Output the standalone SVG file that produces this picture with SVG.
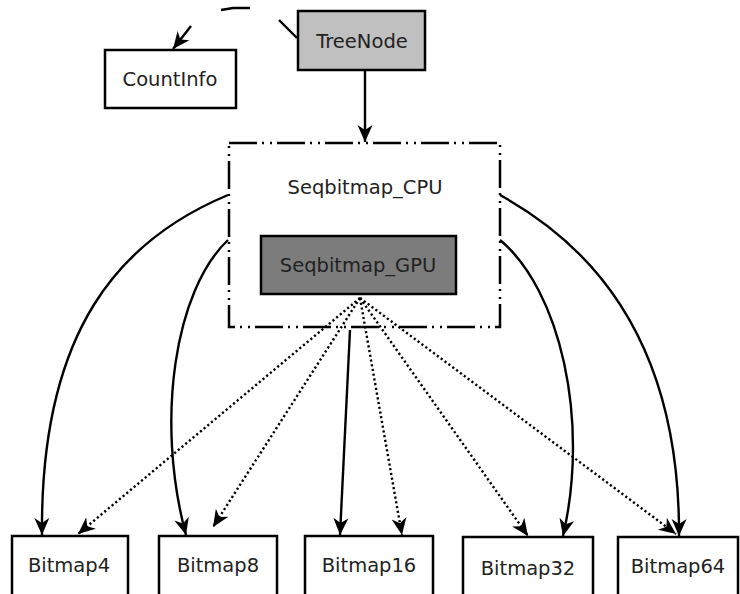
<svg xmlns="http://www.w3.org/2000/svg" width="740" height="594" viewBox="0 0 740 594">
<style>
.box{stroke:#000;stroke-width:2.5}
.lbl{font-family:"DejaVu Sans",sans-serif;font-size:19.5px;fill:#222;text-anchor:middle;dominant-baseline:central}
.e{fill:none;stroke:#000;stroke-width:2.4}
.d{fill:none;stroke:#000;stroke-width:2.4;stroke-dasharray:2.2 2.6}
</style>
<defs>
<marker id="ah" markerUnits="userSpaceOnUse" markerWidth="18" markerHeight="18" viewBox="0 0 18 18" refX="17" refY="9" orient="auto">
<path d="M0,1.5 L17,9 L0,16.5 L5,9 Z" fill="#000"/>
</marker>
</defs>
<rect width="740" height="594" fill="#fff"/>
<g id="connectors">
<path class="e" d="M221,10 L233,8 L250,8"/>
<path class="e" d="M279,20 L297,38"/>
<path class="e" d="M191,26 L173,49" marker-end="url(#ah)"/>
<path class="e" d="M365,70 L365,142" marker-end="url(#ah)"/>
<path class="e" d="M228,195 C120,240 40,330 42,535" marker-end="url(#ah)"/>
<path class="e" d="M228,240 C175,290 155,420 186,535" marker-end="url(#ah)"/>
<path class="e" d="M350,330 L340,535" marker-end="url(#ah)"/>
<path class="e" d="M500,240 C560,290 590,420 563,536" marker-end="url(#ah)"/>
<path class="e" d="M500,195 C600,250 680,350 679,536" marker-end="url(#ah)"/>
<path class="d" d="M360,298 L78,534" marker-end="url(#ah)"/>
<path class="d" d="M360,298 L213,527" marker-end="url(#ah)"/>
<path class="d" d="M360,298 L402,535" marker-end="url(#ah)"/>
<path class="d" d="M360,298 L528,536" marker-end="url(#ah)"/>
<path class="d" d="M360,298 L676,534" marker-end="url(#ah)"/>
</g>
<g id="TreeNode"><rect class="box" x="298" y="11" width="127" height="59" fill="#c0c0c0"/><text class="lbl" x="362" y="41">TreeNode</text></g>
<g id="CountInfo"><rect class="box" x="105" y="50" width="131" height="58" fill="#fff"/><text class="lbl" x="170" y="79">CountInfo</text></g>
<g id="Seqbitmap_CPU"><rect x="229" y="143" width="271" height="184" fill="none" stroke="#000" stroke-width="2.5" stroke-dasharray="28 5 2 6 2 5"/><text class="lbl" x="365" y="187">Seqbitmap_CPU</text></g>
<g id="Seqbitmap_GPU"><rect class="box" x="261" y="236" width="195" height="58" fill="#7c7c7c"/><text class="lbl" x="358" y="265">Seqbitmap_GPU</text></g>
<g id="Bitmap4"><rect class="box" x="12" y="536" width="116" height="70" fill="#fff"/><text class="lbl" x="69" y="565">Bitmap4</text></g>
<g id="Bitmap8"><rect class="box" x="159" y="536" width="118" height="70" fill="#fff"/><text class="lbl" x="218" y="565">Bitmap8</text></g>
<g id="Bitmap16"><rect class="box" x="305" y="536" width="128" height="70" fill="#fff"/><text class="lbl" x="369" y="565">Bitmap16</text></g>
<g id="Bitmap32"><rect class="box" x="463" y="537" width="130" height="70" fill="#fff"/><text class="lbl" x="528" y="568">Bitmap32</text></g>
<g id="Bitmap64"><rect class="box" x="618" y="537" width="120" height="70" fill="#fff"/><text class="lbl" x="678" y="566">Bitmap64</text></g>
</svg>
